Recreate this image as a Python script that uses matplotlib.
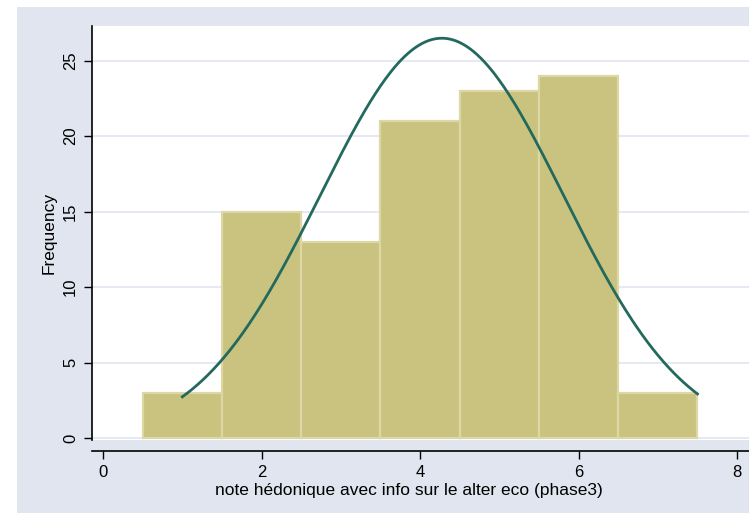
import numpy as np
import matplotlib
matplotlib.use("Agg")
import matplotlib.pyplot as plt
from matplotlib.patches import Rectangle

# histogram of the hedonic score (bins of width 1 centred on 1..7)
bin_centers = [1, 2, 3, 4, 5, 6, 7]
counts = [3, 15, 13, 21, 23, 24, 3]
bin_width = 1.0
curve_range = (1.0, 7.5)  # min / max of the variable

xticks = [0, 2, 4, 6, 8]
yticks = [0, 5, 10, 15, 20, 25]

bg = "#e1e5ef"
bar_fill = "#c9c37f"
bar_edge = "#dcd7a5"
line_col = "#24695d"

plt.rcParams["font.family"] = ["Liberation Sans", "DejaVu Sans"]

fig = plt.figure(figsize=(7.49, 5.13), dpi=100)
fig.patch.set_facecolor("white")
fig.add_artist(Rectangle((17 / 749, 0), 1, 1 - 7 / 513, transform=fig.transFigure,
                         facecolor=bg, edgecolor="none", zorder=-10))

ax = fig.add_axes([92 / 749, 1 - 440 / 513, (749 - 92) / 749, (440 - 26) / 513])
ax.set_zorder(1)
ax.set_facecolor("white")

for y in yticks:
    ax.axhline(y, color=bg, lw=1.2, zorder=1)

ax.bar(bin_centers, counts, width=bin_width, color=bar_fill, edgecolor=bar_edge,
       linewidth=1.6, zorder=2)

# normal density scaled to frequencies, from the binned data
c = np.array(bin_centers, dtype=float)
n = np.array(counts, dtype=float)
mean = (c * n).sum() / n.sum()
sd = np.sqrt((n * (c - mean) ** 2).sum() / (n.sum() - 1))
xs = np.linspace(curve_range[0], curve_range[1], 300)
ys = n.sum() * bin_width / (sd * np.sqrt(2 * np.pi)) * np.exp(-(xs - mean) ** 2 / (2 * sd ** 2))
ax.plot(xs, ys, color=line_col, lw=2, zorder=3)

ax.set_xlim(-0.14, 8.15)
ax.set_ylim(-0.13, 27.3)
ax.set_xticks(xticks)
ax.set_yticks(yticks)
ax.set_yticklabels([str(v) for v in yticks], rotation=90, va="center")
ax.tick_params(labelsize=12, length=6, width=1, color="black", pad=4)

for s in ["top", "right"]:
    ax.spines[s].set_visible(False)
ax.spines["bottom"].set_position(("outward", 8))
ax.spines["left"].set_linewidth(1.2)
ax.spines["bottom"].set_linewidth(1.2)

ax.set_xlabel("note hédonique avec info sur le alter eco (phase3)", fontsize=12.5, labelpad=1)
ax.xaxis.set_label_coords(0.482, -0.105)
ax.set_ylabel("Frequency", fontsize=12.5, labelpad=5)

fig.savefig("out.png", dpi=100)
